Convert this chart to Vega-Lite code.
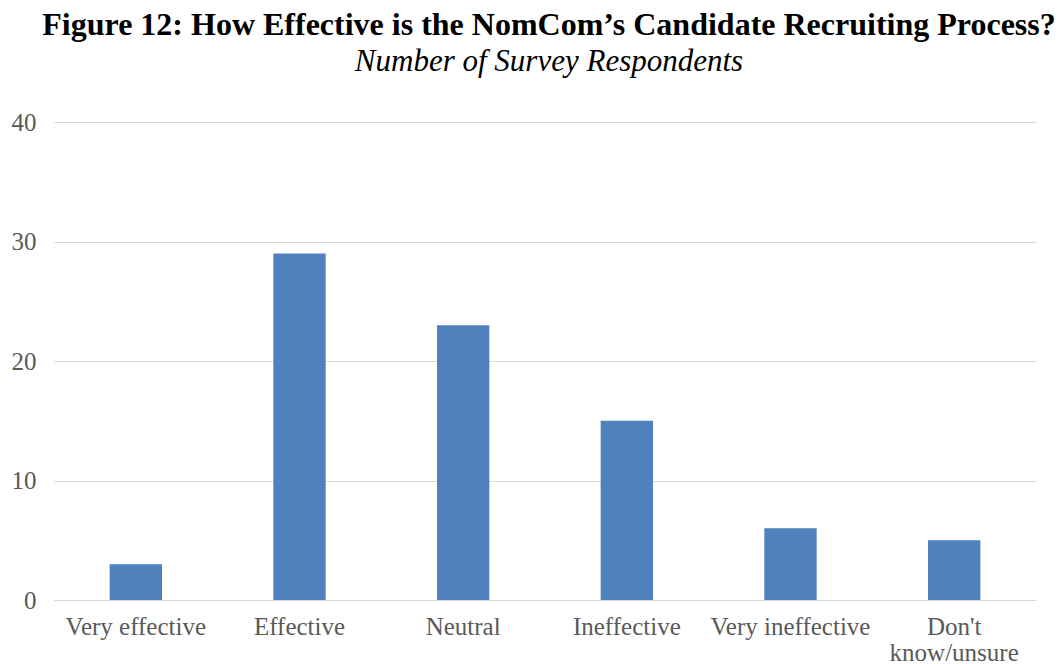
{
  "$schema": "https://vega.github.io/schema/vega-lite/v6.json",
  "autosize": "none",
  "width": 982,
  "height": 478,
  "padding": {"left": 54, "top": 122, "right": 24, "bottom": 64},
  "background": "white",
  "title": {
    "text": "Figure 12: How Effective is the NomCom’s Candidate Recruiting Process?",
    "subtitle": "Number of Survey Respondents",
    "anchor": "middle",
    "frame": "group",
    "font": "Liberation Serif",
    "fontSize": 32,
    "fontWeight": "bold",
    "color": "#000000",
    "subtitleFont": "Liberation Serif",
    "subtitleFontSize": 31,
    "subtitleFontStyle": "italic",
    "subtitleColor": "#000000",
    "subtitlePadding": 5,
    "offset": 32,
    "dx": 4
  },
  "data": {
    "values": [
      {"category": "Very effective", "count": 3},
      {"category": "Effective", "count": 29},
      {"category": "Neutral", "count": 23},
      {"category": "Ineffective", "count": 15},
      {"category": "Very ineffective", "count": 6},
      {"category": "Don't know/unsure", "count": 5}
    ]
  },
  "mark": {"type": "bar", "color": "#4F81BD"},
  "encoding": {
    "x": {
      "field": "category",
      "type": "nominal",
      "sort": null,
      "scale": {"paddingInner": 0.68, "paddingOuter": 0.34},
      "axis": {
        "title": null,
        "labelAngle": 0,
        "labelFont": "Liberation Serif",
        "labelFontSize": 25,
        "labelColor": "#595959",
        "labelPadding": 14,
        "labelLineHeight": 26,
        "ticks": false,
        "domainColor": "#D9D9D9",
        "labelExpr": "datum.label == \"Don't know/unsure\" ? [\"Don't\", \"know/unsure\"] : datum.label"
      }
    },
    "y": {
      "field": "count",
      "type": "quantitative",
      "scale": {"domain": [0, 40]},
      "axis": {
        "title": null,
        "values": [0, 10, 20, 30, 40],
        "labelFont": "Liberation Serif",
        "labelFontSize": 25,
        "labelColor": "#595959",
        "labelPadding": 18,
        "ticks": false,
        "domain": false,
        "gridColor": "#D9D9D9",
        "gridWidth": 1
      }
    }
  },
  "config": {"view": {"stroke": null}}
}
